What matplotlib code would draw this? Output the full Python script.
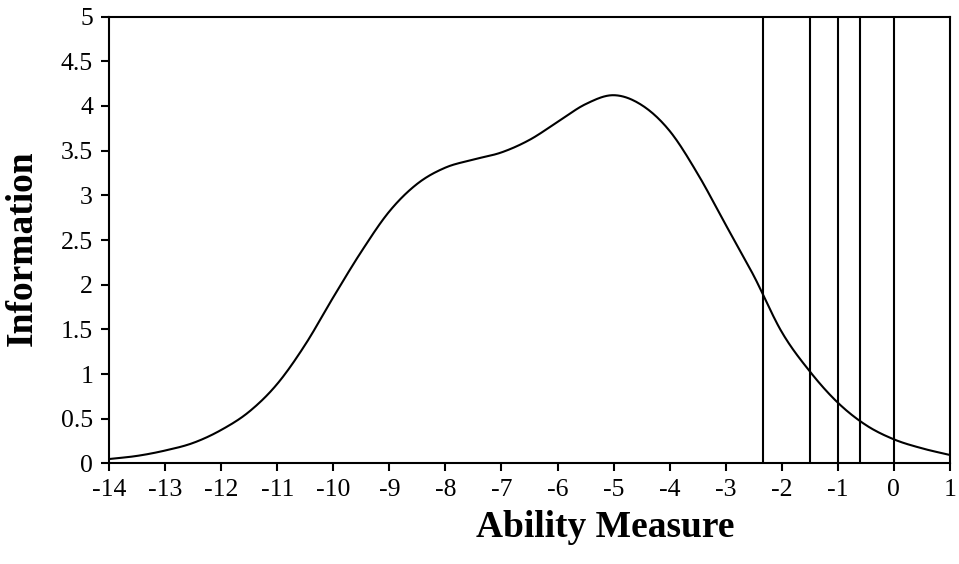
import matplotlib
matplotlib.use("Agg")
import matplotlib.pyplot as plt
import numpy as np

# Test information curve
ability = [-14.0, -13.5, -13.0, -12.5, -12.0, -11.5, -11.0, -10.5, -10.0, -9.5,
           -9.0, -8.5, -8.0, -7.5, -7.0, -6.5, -6.0, -5.5, -5.0, -4.5,
           -4.0, -3.5, -3.0, -2.5, -2.0, -1.5, -1.0, -0.5, 0.0, 0.5, 1.0]
information = [0.05, 0.085, 0.145, 0.23, 0.375, 0.58, 0.89, 1.33, 1.86, 2.37,
               2.82, 3.13, 3.31, 3.40, 3.48, 3.62, 3.82, 4.02, 4.12, 4.01,
               3.72, 3.24, 2.67, 2.10, 1.47, 1.03, 0.68, 0.43, 0.27, 0.17, 0.095]

# Vertical reference lines
cut_points = [-2.33, -1.5, -1.0, -0.6, 0.0]

x_ticks = list(range(-14, 2))
y_ticks = [0, 0.5, 1, 1.5, 2, 2.5, 3, 3.5, 4, 4.5, 5]
y_tick_labels = ["0", "0.5", "1", "1.5", "2", "2.5", "3", "3.5", "4", "4.5", "5"]


def smooth_path(x, y, n=20):
    """Cubic Hermite (Catmull-Rom) rendering through the read points."""
    x = np.asarray(x, float)
    y = np.asarray(y, float)
    m = np.gradient(y, x)
    xs, ys = [], []
    for i in range(len(x) - 1):
        h = x[i + 1] - x[i]
        t = np.linspace(0, 1, n, endpoint=False)
        h00 = 2 * t**3 - 3 * t**2 + 1
        h10 = t**3 - 2 * t**2 + t
        h01 = -2 * t**3 + 3 * t**2
        h11 = t**3 - t**2
        xs.append(x[i] + t * h)
        ys.append(h00 * y[i] + h10 * h * m[i] + h01 * y[i + 1] + h11 * h * m[i + 1])
    xs.append([x[-1]])
    ys.append([y[-1]])
    return np.concatenate(xs), np.concatenate(ys)


plt.rcParams['font.family'] = ['Liberation Serif', 'DejaVu Serif']

fig = plt.figure(figsize=(9.59, 5.64), dpi=100)
ax = fig.add_axes([0.1137, 0.1782, 0.8769, 0.7925])

sx, sy = smooth_path(ability, information)
ax.plot(sx, sy, color='black', lw=1.5, solid_joinstyle='round')
for c in cut_points:
    ax.axvline(c, color='black', lw=1.5)

ax.set_xlim(-14, 1)
ax.set_ylim(0, 5)
ax.set_xticks(x_ticks)
ax.set_xticklabels([str(t) for t in x_ticks])
ax.set_yticks(y_ticks)
ax.set_yticklabels(y_tick_labels)
ax.tick_params(direction='out', length=5.5, width=1.5, labelsize=18.5, pad=6)
for s in ax.spines.values():
    s.set_linewidth(1.5)

fig.text(0.631, 0.065, "Ability Measure", fontsize=27, fontweight='bold',
         ha='center', va='center')
fig.text(0.023, 0.56, "Information", fontsize=27, fontweight='bold',
         ha='center', va='center', rotation=90)

fig.savefig("out.png", dpi=100, facecolor='white')
